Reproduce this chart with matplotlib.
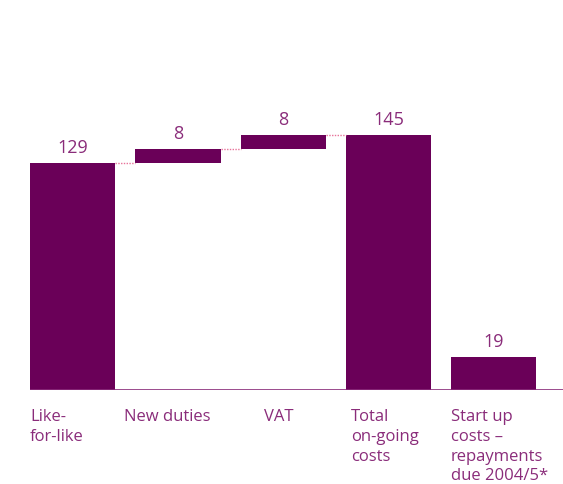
import matplotlib.pyplot as plt

categories = ['Like-\nfor-like', 'New duties', 'VAT', 'Total\non-going\ncosts',
              'Start up\ncosts \u2013\nrepayments\ndue 2004/5*']
values = [129, 8, 8, 145, 19]
bottoms = [0, 129, 137, 0, 0]

bar_color = '#6a0058'
text_color = '#8a2c7a'
link_color = '#e8739a'

plt.rcParams['font.family'] = ['Open Sans', 'DejaVu Sans']

fig = plt.figure(figsize=(5.63, 4.84), dpi=100)
ax = fig.add_axes([30 / 563, 94 / 484, 533 / 563, 390 / 484])

w = 0.81
x = list(range(len(values)))
ax.bar(x, values, bottom=bottoms, width=w, color=bar_color)

# dotted links between the floating steps
for i in range(3):
    level = bottoms[i] + values[i]
    ax.plot([x[i] + w / 2, x[i + 1] - w / 2], [level, level],
            color=link_color, lw=1, ls=(0, (1, 1)))

for xi, v, b in zip(x, values, bottoms):
    ax.annotate(str(v), (xi, b + v), xytext=(0, 4), textcoords='offset points',
                ha='center', va='bottom', fontsize=13, color=text_color)

# category labels sit under the bars, nudged a little per column
label_shift = [0, -0.105, 0.22, 0.05, 0]
for xi, lab, dx in zip(x, categories, label_shift):
    ax.text(xi - w / 2 + dx, -11, lab, ha='left', va='top', fontsize=12,
            color=text_color, linespacing=1.3)

ax.set_xlim(-w / 2, -w / 2 + 533 / 105.25)
ax.set_ylim(0, 390 / 1.76)
ax.axhline(0, color=text_color, lw=1.2)
ax.axis('off')

fig.savefig('out.png', dpi=100)
